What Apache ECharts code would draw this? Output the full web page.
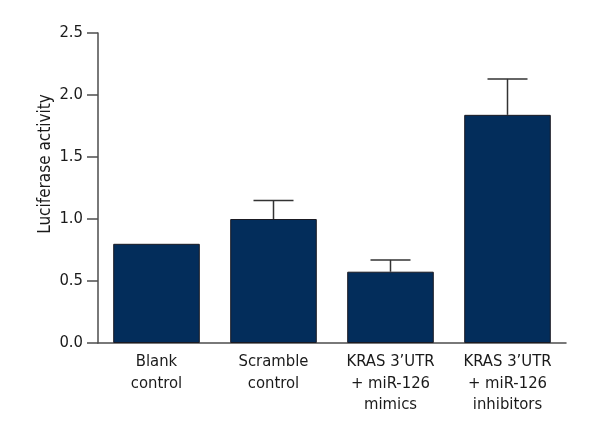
<!DOCTYPE html>
<html>
<head>
<meta charset="utf-8">
<script src="https://cdn.jsdelivr.net/npm/echarts@6/dist/echarts.min.js"></script>
<style>html,body{margin:0;padding:0;background:#fff}#c{width:600px;height:440px}</style>
</head>
<body>
<div id="c"></div>
<script>
var categories = ['Blank\ncontrol', 'Scramble\ncontrol', 'KRAS 3\u2019UTR\n+ miR-126\nmimics', 'KRAS 3\u2019UTR\n+ miR-126\ninhibitors'];
var means = [0.80, 1.00, 0.575, 1.84];
var upperErr = [0, 0.15, 0.095, 0.29];
var yTicks = [0, 0.5, 1.0, 1.5, 2.0, 2.5];

var FONT = '"Liberation Sans Narrow", "DejaVu Sans Condensed", sans-serif';
var chart = echarts.init(document.getElementById('c'));
var errData = means.map(function (m, i) { return [i, m, m + upperErr[i]]; });

chart.setOption({
  animation: false,
  grid: { left: 98, right: 34, top: 33, bottom: 97 },
  xAxis: {
    type: 'category',
    data: categories,
    axisLine: { lineStyle: { color: '#4d4d4d', width: 1.5 } },
    axisTick: { show: false },
    axisLabel: { color: '#1a1a1a', fontFamily: FONT, fontSize: 16.5, lineHeight: 21.5, margin: 8, interval: 0 }
  },
  yAxis: {
    type: 'value',
    min: yTicks[0], max: yTicks[yTicks.length - 1], interval: 0.5,
    splitLine: { show: false },
    axisLine: { show: true, lineStyle: { color: '#4d4d4d', width: 1.5 } },
    axisTick: { show: true, length: 11, lineStyle: { color: '#4d4d4d', width: 1.5 } },
    axisLabel: {
      color: '#1a1a1a', fontFamily: FONT, fontSize: 16.5, margin: 15,
      formatter: function (v) { return v.toFixed(1); }
    }
  },
  graphic: [{
    type: 'text',
    x: 46, y: 164,
    rotation: Math.PI / 2,
    style: { text: 'Luciferase activity', fill: '#1a1a1a', font: '17px ' + FONT, textAlign: 'center', textVerticalAlign: 'middle' }
  }],
  series: [{
    type: 'bar',
    data: means,
    barCategoryGap: '26%',
    itemStyle: { color: '#032d5b', borderColor: '#1a1a22', borderWidth: 1 }
  }, {
    type: 'custom',
    data: errData,
    z: 1,
    renderItem: function (params, api) {
      var i = api.value(0);
      var lo = api.coord([i, api.value(1)]);
      var hi = api.coord([i, api.value(2)]);
      if (api.value(2) <= api.value(1)) return { type: 'group', children: [] };
      var hw = 20;
      var st = { stroke: '#333', lineWidth: 1.5 };
      return {
        type: 'group',
        children: [
          { type: 'line', shape: { x1: lo[0], y1: lo[1], x2: hi[0], y2: hi[1] }, style: st },
          { type: 'line', shape: { x1: hi[0] - hw, y1: hi[1], x2: hi[0] + hw, y2: hi[1] }, style: st }
        ]
      };
    }
  }]
});
</script>
</body>
</html>
